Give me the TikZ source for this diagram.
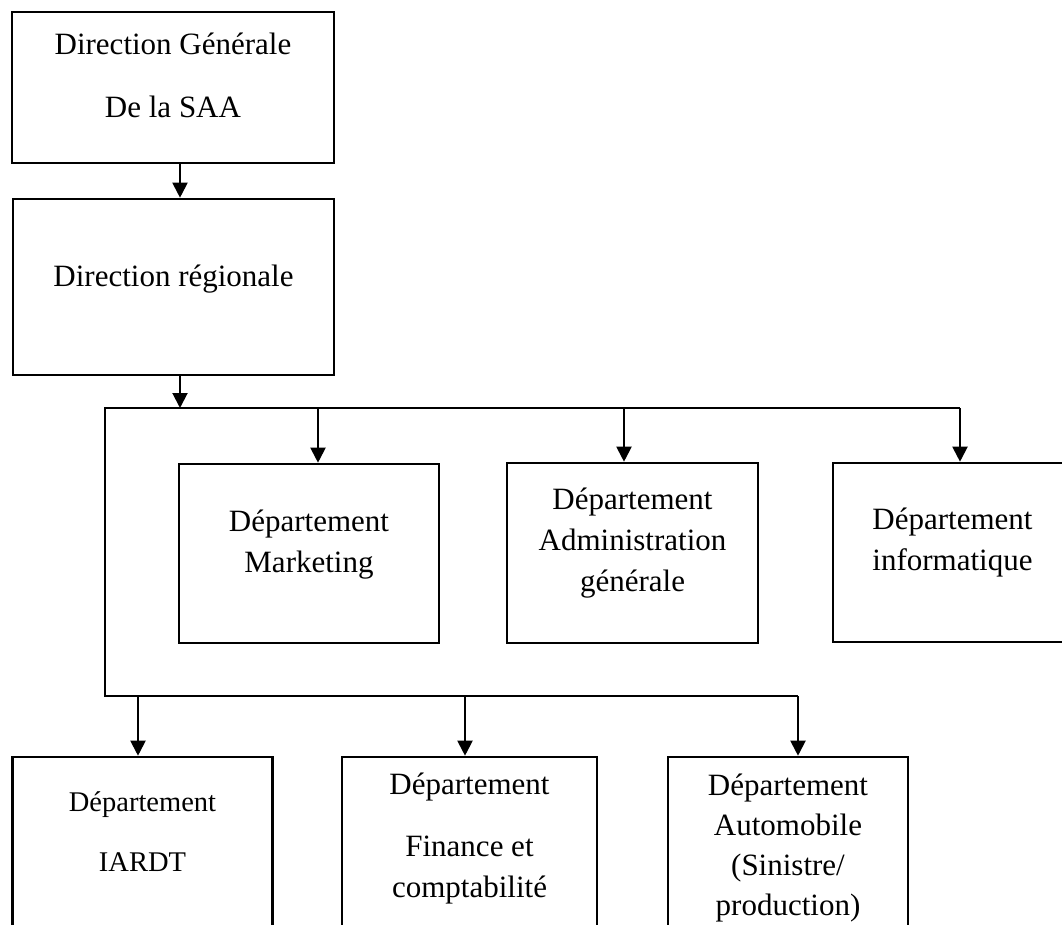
\documentclass[tikz,border=0pt]{standalone}
\usepackage{fontspec}
\setmainfont{Liberation Serif}
\usetikzlibrary{arrows.meta}

\begin{document}
\begin{tikzpicture}[x=1pt,y=-1pt,
		boite/.style={draw, line width=2.6pt, inner sep=0pt},
		texte/.style={anchor=north, align=center, inner sep=0pt, font=\fontsize{31}{41}\selectfont},
		lien/.style={line width=2pt},
		fleche/.style={lien, -{Triangle[width=15pt,length=15pt]}}]
		\useasboundingbox (0,0) rectangle (1062,925);
		% direction
		\node[boite, minimum width=322pt, minimum height=151pt] (dg) at (173,87.5) {};
		\node[texte] (dg-t) at ([yshift=-22pt]dg.north) {Direction Générale\\[22pt]De la SAA};
		\node[boite, minimum width=321pt, minimum height=176pt] (dr) at (173.5,287) {};
		\node[texte] (dr-t) at ([yshift=-67pt]dr.north) {Direction régionale};
		\draw[fleche] ([xshift=7pt]dg.south) -- ([xshift=6.5pt]dr.north);
		
		% departements du haut
		\node[boite, minimum width=260pt, minimum height=179pt] (mk) at (309,553.5) {};
		\node[texte] (mk-t) at ([yshift=-47pt]mk.north) {Département\\Marketing};
		\node[boite, minimum width=251pt, minimum height=180pt] (ad) at (632.5,553) {};
		\node[texte] (ad-t) at ([yshift=-26pt]ad.north) {Département\\Administration\\générale};
		\node[boite, minimum width=239pt, minimum height=179pt] (inf) at (952.5,552.5) {};
		\node[texte] (inf-t) at ([yshift=-46pt]inf.north) {Département\\informatique};
		
		% departements du bas
		\node[boite, minimum width=260pt, minimum height=188pt] (ia) at (142.5,851) {};
		\node[texte, font=\fontsize{28.5}{37}\selectfont] (ia-t) at ([yshift=-36pt]ia.north) {Département\\[23pt]IARDT};
		\node[boite, minimum width=255pt, minimum height=188pt] (fi) at (469.5,851) {};
		\node[texte] (fi-t) at ([yshift=-17pt]fi.north) {Département\\[21pt]Finance et\\comptabilité};
		\node[boite, minimum width=240pt, minimum height=188pt] (au) at (788,851) {};
		\node[texte, font=\fontsize{31}{40}\selectfont] (au-t) at ([yshift=-18pt]au.north) {Département\\Automobile\\(Sinistre/\\production)};
		
		% liaisons
		\coordinate (hg) at (105,408);
		\coordinate (hd) at (960,408);
		\coordinate (bg) at (105,696);
		\coordinate (bd) at (798,696);
		\draw[lien] (hd) -- (hg) -- (bg) -- (bd);
		\draw[fleche] ([xshift=6.5pt]dr.south) -- ([xshift=6.5pt]dr.south |- hg);
		\foreach \n/\d in {mk/9, ad/-8.5, inf/7.5} {
			\draw[fleche] ([xshift=\d pt]\n.north |- hg) -- ([xshift=\d pt]\n.north);
		}
		\foreach \n/\d in {ia/-4.5, fi/-4.5, au/10} {
			\draw[fleche] ([xshift=\d pt]\n.north |- bg) -- ([xshift=\d pt]\n.north);
		}
	\end{tikzpicture}
\end{document}
